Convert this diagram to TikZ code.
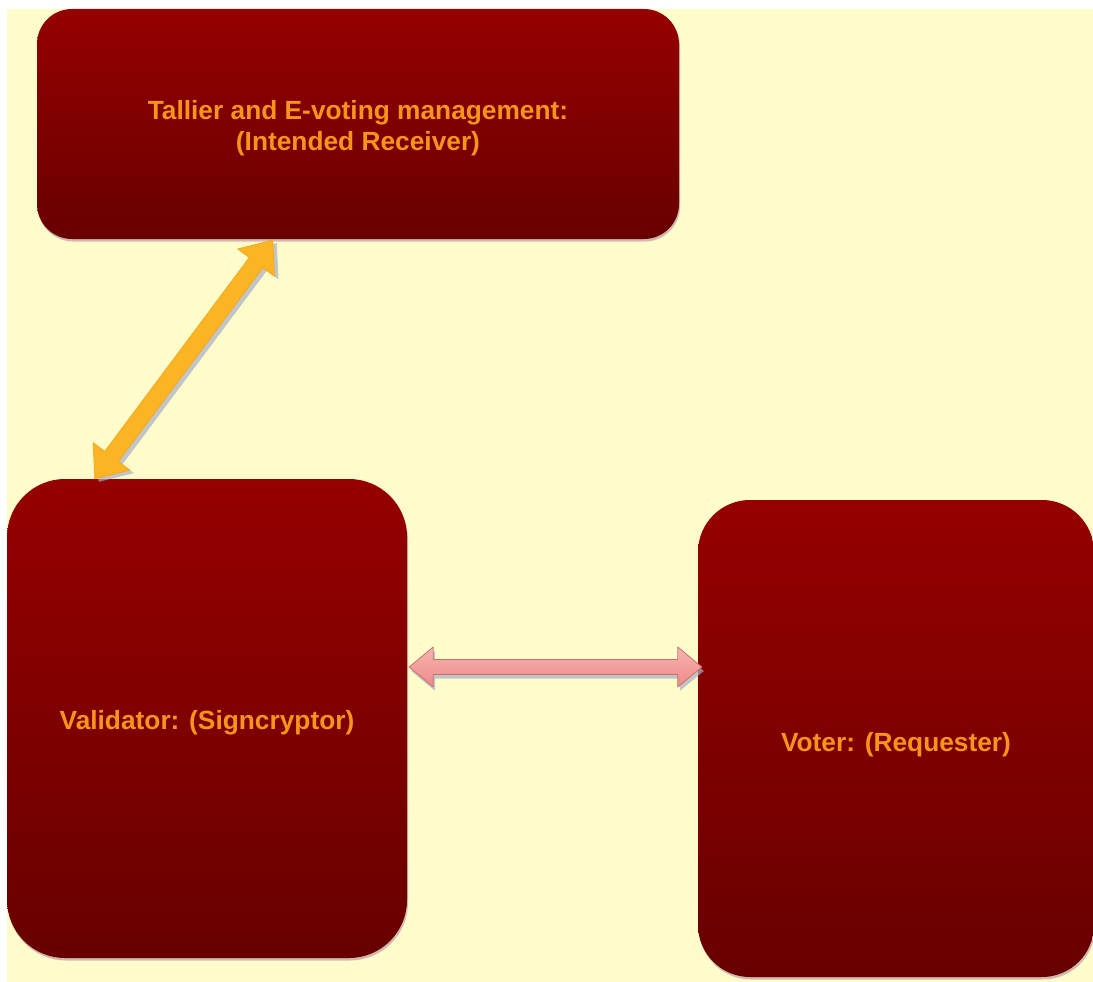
\documentclass[tikz,border=0pt]{standalone}
\usepackage{fontspec}
\setmainfont{Liberation Sans}
\usetikzlibrary{calc,shadows}
\definecolor{bg}{HTML}{FFFCCB}
\definecolor{boxtop}{HTML}{960000}
\definecolor{boxbot}{HTML}{680000}
\definecolor{txt}{HTML}{F7941D}
\definecolor{yel}{HTML}{FBB424}
\definecolor{yeledge}{HTML}{F3A510}
\definecolor{pinktop}{HTML}{F7B4B0}
\definecolor{pinkbot}{HTML}{EE8A88}
\definecolor{pinkedge}{HTML}{C87068}
\definecolor{shadowc}{HTML}{A8AEC8}
\definecolor{boxshadow}{HTML}{C8A8A8}
\newcommand\dblarr[6]{%
  \path[#3] (#1) -- ($(#1)!#6!(#2)!#5!90:(#2)$) -- ($(#1)!#6!(#2)!#4!90:(#2)$)
    -- ($(#2)!#6!(#1)!#4!-90:(#1)$) -- ($(#2)!#6!(#1)!#5!-90:(#1)$) -- (#2)
    -- ($(#2)!#6!(#1)!#5!90:(#1)$) -- ($(#2)!#6!(#1)!#4!90:(#1)$)
    -- ($(#1)!#6!(#2)!#4!-90:(#2)$) -- ($(#1)!#6!(#2)!#5!-90:(#2)$) -- cycle;}
\begin{document}
\begin{tikzpicture}[x=1pt,y=-1pt,
  box/.style={rectangle, inner sep=0pt, top color=boxtop, bottom color=boxbot,
    drop shadow={shadow xshift=1pt, shadow yshift=-2.5pt, fill=boxshadow, opacity=0.8}},
  boxtext/.style={text=txt, align=center, inner sep=0pt, yshift=-4pt,
    font=\bfseries\fontsize{26.3}{31}\selectfont},
  yarrow/.style={fill=yel, draw=yeledge, line width=0.6pt, line join=round},
  parrow/.style={top color=pinktop, bottom color=pinkbot, draw=pinkedge, line width=0.8pt, line join=round},
  arrshadow/.style={fill=shadowc, opacity=0.7}]
\useasboundingbox (0,0) rectangle (1093,982);
\fill[white] (0,0) rectangle (1093,982);
\fill[bg] (7,9) rectangle (1093,982);

\node[box, rounded corners=35pt, minimum width=642pt, minimum height=230pt,
  label={[boxtext]center:Tallier and E-voting management:\\(Intended Receiver)}] (tal) at (358,124) {};
\node[box, rounded corners=58pt, minimum width=400pt, minimum height=479pt,
  label={[boxtext]center:Validator: (Signcryptor)}] (val) at (207,718.5) {};
\node[box, rounded corners=52pt, minimum width=396pt, minimum height=477pt,
  label={[boxtext, yshift=-2pt]center:Voter: (Requester)}] (vot) at (896,738.5) {};

% arrow end points on the box edges
\coordinate (ya) at ($(val.north west)+(88,0)$);
\coordinate (yb) at ($(tal.south west)+(236,1)$);
\coordinate (pa) at ($(val.east)+(2,-51.5)$);
\coordinate (pb) at ($(vot.west)+(4,-71.5)$);
\coordinate (yas) at ($(ya)+(4,3)$);
\coordinate (ybs) at ($(yb)+(4,3)$);
\coordinate (pas) at ($(pa)+(2,4)$);
\coordinate (pbs) at ($(pb)+(2,4)$);

\dblarr{yas}{ybs}{arrshadow}{8.5pt}{23pt}{28pt}
\dblarr{ya}{yb}{yarrow}{8.5pt}{23pt}{28pt}
\dblarr{pas}{pbs}{arrshadow}{7.5pt}{20pt}{24pt}
\dblarr{pa}{pb}{parrow}{7.5pt}{20pt}{24pt}
\end{tikzpicture}
\end{document}
